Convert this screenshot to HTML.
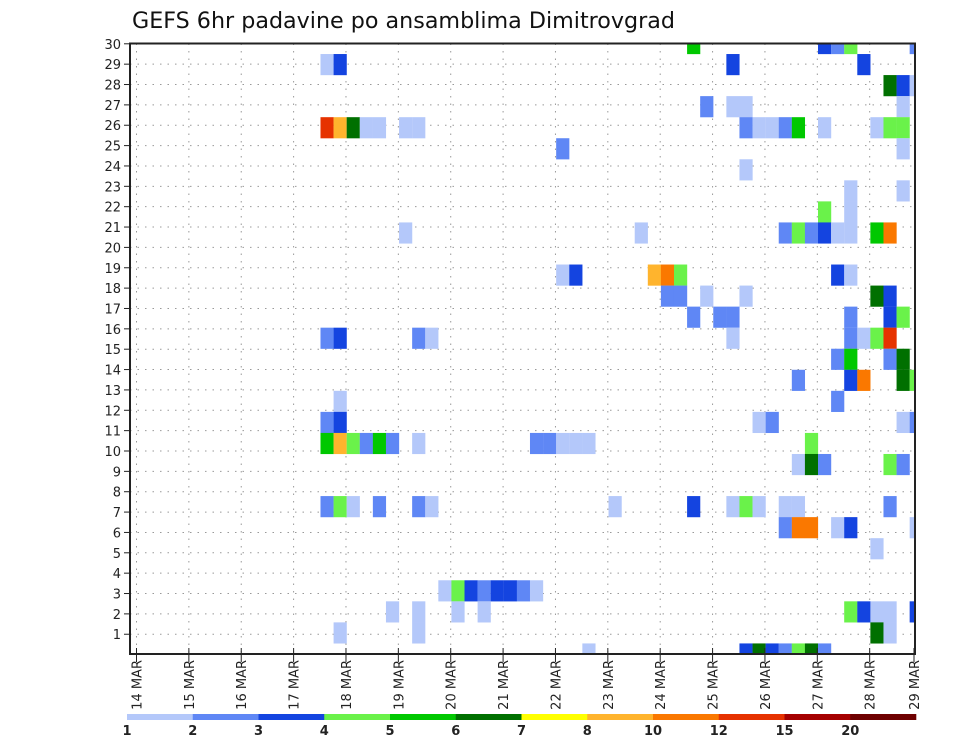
<!DOCTYPE html>
<html><head><meta charset="utf-8"><style>
html,body{margin:0;padding:0;background:#fff;}
svg{display:block;font-family:"DejaVu Sans","Liberation Sans",sans-serif;}
</style></head><body>
<svg id="chart" width="960" height="742" viewBox="0 0 960 742" xmlns="http://www.w3.org/2000/svg">
<text x="132" y="28" font-size="22" fill="#111" textLength="543" lengthAdjust="spacingAndGlyphs">GEFS 6hr padavine po ansamblima Dimitrovgrad</text>
<defs><clipPath id="plotclip"><rect x="130" y="43.5" width="785" height="610.5"/></clipPath></defs>
<g id="grid"></g>
<g id="cells" clip-path="url(#plotclip)"></g>
<rect x="130" y="43.5" width="785" height="610.5" fill="none" stroke="#222" stroke-width="2"/>
<g id="yaxis"></g>
<g id="xaxis"></g>
<g id="colorbar"></g>
</svg>
<script>
// ---- data ----
const dayLabels = ["14 MAR","15 MAR","16 MAR","17 MAR","18 MAR","19 MAR","20 MAR","21 MAR","22 MAR","23 MAR","24 MAR","25 MAR","26 MAR","27 MAR","28 MAR","29 MAR"];
const memberTicks = [1,2,3,4,5,6,7,8,9,10,11,12,13,14,15,16,17,18,19,20,21,22,23,24,25,26,27,28,29,30];
const levelLabels = ["1","2","3","4","5","6","7","8","10","12","15","20"];
const levelBounds = [1,2,3,4,5,6,7,8,10,12,15,20,999];
const levelColors = ["#b4c8fa","#5f87f5","#1444e0","#6af24a","#00c800","#007000","#ffff00","#ffb42d","#fa7800","#e63200","#a50000","#6e0000"];
// cells: row index, 6-hour step index (from 14 MAR 00Z), precipitation (mm)
const cellRow = [29,29,29,29, 30,30,30,30,30, 28,28,28, 27,27,27,27,
 26,26,26,26,26,26,26,26,26,26,26,26,26,26,26,26, 25,25, 24, 23,23, 22,22,
 21,21,21,21,21,21,21,21,21,21, 19,19,19,19,19,19,19, 18,18,18,18,18,18,
 17,17,17,17,17,17, 16,16,16,16,16,16,16,16,16, 15,15,15,15, 14,14,14,14,14,
 13,13, 12,12,12,12,12,12, 11,11,11,11,11,11,11,11,11,11,11,11,11,
 10,10,10,10,10, 8,8,8,8,8,8,8,8,8,8,8,8,8,8, 7,7,7,7,7,7, 6,
 4,4,4,4,4,4,4,4, 3,3,3,3,3,3,3,3,3, 2,2,2,2, 1,1,1,1,1,1,1,1];
const cellStep = [14,15,45,55, 42,52,53,54,59, 57,58,59, 43,45,46,58,
 14,15,16,17,18,20,21,46,47,48,49,50,52,56,57,58, 32,58, 46, 54,58, 52,54,
 20,38,49,50,51,52,53,54,56,57, 32,33,39,40,41,53,54, 40,41,43,46,56,57,
 42,44,45,54,57,58, 14,15,21,22,45,54,55,56,57, 53,54,57,58, 50,54,55,58,59,
 15,53, 14,15,47,48,58,59, 14,15,16,17,18,19,21,30,31,32,33,34,51,
 50,51,52,57,58, 14,15,16,18,21,22,36,42,45,46,47,49,50,57, 49,50,51,53,54,59, 56,
 23,24,25,26,27,28,29,30, 19,21,24,26,54,55,56,57,59, 15,21,56,57, 34,46,47,48,49,50,51,52];
const cellPrecip = [1.5,3.5,3.5,3.5, 5.5,3.5,2.5,4.5,2.5, 6.5,3.5,1.5, 2.5,1.5,1.5,1.5,
 13,9,6.5,1.5,1.5,1.5,1.5,2.5,1.5,1.5,2.5,5.5,1.5,1.5,4.5,4.5, 2.5,1.5, 1.5, 1.5,1.5, 4.5,1.5,
 1.5,1.5,2.5,4.5,2.5,3.5,1.5,1.5,5.5,11, 1.5,3.5,9,11,4.5,3.5,1.5, 2.5,2.5,1.5,1.5,6.5,3.5,
 2.5,2.5,2.5,2.5,3.5,4.5, 2.5,3.5,2.5,1.5,1.5,2.5,1.5,4.5,13, 2.5,5.5,2.5,6.5, 2.5,3.5,11,6.5,4.5,
 1.5,2.5, 2.5,3.5,1.5,2.5,1.5,2.5, 5.5,9,4.5,2.5,5.5,2.5,1.5,2.5,2.5,1.5,1.5,1.5,4.5,
 1.5,6.5,2.5,4.5,2.5, 2.5,4.5,1.5,2.5,2.5,1.5,1.5,3.5,1.5,4.5,1.5,1.5,1.5,2.5, 2.5,11,11,1.5,3.5,1.5, 1.5,
 1.5,4.5,3.5,2.5,3.5,3.5,2.5,1.5, 1.5,1.5,1.5,1.5,4.5,3.5,1.5,1.5,3.5, 1.5,1.5,6.5,1.5, 1.5,3.5,6.5,3.5,2.5,4.5,6.5,2.5];

// ---- scales ----
const NS="http://www.w3.org/2000/svg";
const X0=136.5, DAYW=52.37, STEPW=DAYW/4;
const xDay = d => X0 + d*DAYW;
const xStep = j => X0 + 0.7 + j*STEPW;
const yMember = m => 654.6 - m*20.36;
const ROWH = 21.05;
const yCellCenter = r => 675 - r*ROWH;
function colorFor(v){for(let i=0;i<levelColors.length;i++){if(v<levelBounds[i+1])return levelColors[i];}return levelColors[levelColors.length-1];}
function mk(tag,attrs,parent){const e=document.createElementNS(NS,tag);for(const k in attrs)e.setAttribute(k,attrs[k]);parent.appendChild(e);return e;}

const grid=document.getElementById('grid');
memberTicks.forEach(m=>{
  const l=mk('line',{x1:130,x2:915,y1:yMember(m),y2:yMember(m),stroke:'#999','stroke-width':1,'stroke-dasharray':'1.5,6'},grid);
  
  
});
dayLabels.forEach((d,i)=>{
  const x=xDay(i); if(x>914) return;
  const l=mk('line',{x1:x,x2:x,y1:43.5,y2:654,stroke:'#999','stroke-width':1,'stroke-dasharray':'1.5,6'},grid);
  
  
});

const cells=document.getElementById('cells');
for(let i=0;i<cellRow.length;i++){
  const r=mk('rect',{x:xStep(cellStep[i]),y:yCellCenter(cellRow[i])-ROWH/2,width:STEPW+0.1,height:ROWH+0.1,fill:colorFor(cellPrecip[i])},cells);
  
  
}

const ya=document.getElementById('yaxis');
memberTicks.forEach(m=>{
  const y=yMember(m);
  mk('line',{x1:124,x2:130,y1:y,y2:y,stroke:'#222','stroke-width':1},ya);
  const t=mk('text',{x:121,y:y+5,'text-anchor':'end','font-size':13,fill:'#222'},ya);
  t.textContent=m;
  
  
});

const xa=document.getElementById('xaxis');
dayLabels.forEach((d,i)=>{
  const x=Math.min(xDay(i),914);
  mk('line',{x1:x,x2:x,y1:648,y2:662,stroke:'#222','stroke-width':1},xa);
  const t=mk('text',{x:0,y:0,'text-anchor':'end','font-size':13,fill:'#222',transform:`translate(${x+5},660) rotate(-90)`},xa);
  t.textContent=d;
  
  
});

const cb=document.getElementById('colorbar');
const CB0=127, CBW=65.75;
levelColors.forEach((c,i)=>{
  const r=mk('rect',{x:CB0+i*CBW,y:714,width:CBW+0.3,height:6,fill:c},cb);
  
  
});
levelLabels.forEach((s,i)=>{
  const t=mk('text',{x:CB0+i*CBW,y:735,'text-anchor':'middle','font-size':13,'font-weight':'bold',fill:'#222'},cb);
  t.textContent=s;
  
  
});
</script>
</body></html>
